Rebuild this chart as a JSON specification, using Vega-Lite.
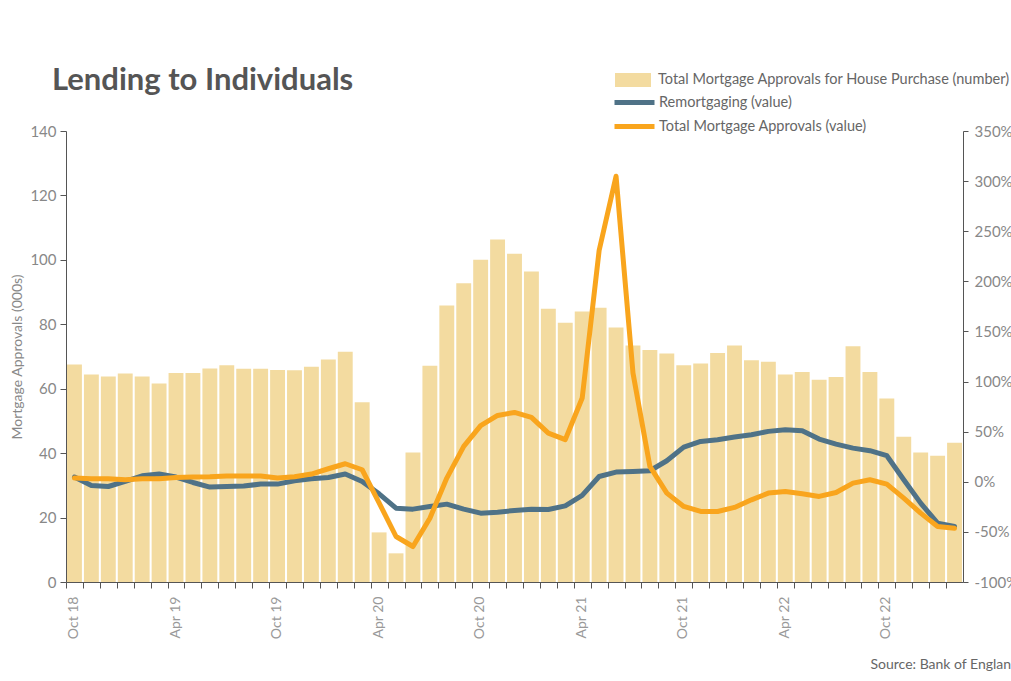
{
  "$schema": "https://vega.github.io/schema/vega-lite/v6.json",
  "autosize": {"type": "none"},
  "padding": {"left": 66, "top": 131, "right": 48, "bottom": 99},
  "width": 897,
  "height": 451,
  "background": "white",
  "config": {"view": {"stroke": null}, "font": "Lato"},
  "title": {"text": "Lending to Individuals", "anchor": "start", "frame": "group", "fontSize": 31, "fontWeight": "bold", "color": "#555555", "font": "Lato", "dx": -14, "dy": 89, "offset": 30, "baseline": "alphabetic"},
  "data": {"values": [
    {"month": "Oct 18", "p": 67.5, "r": 4.7, "t": 3.7},
    {"month": "Nov 18", "p": 64.4, "r": -3.7, "t": 3},
    {"month": "Dec 18", "p": 63.8, "r": -4.7, "t": 3},
    {"month": "Jan 19", "p": 64.7, "r": 0.3, "t": 2},
    {"month": "Feb 19", "p": 63.8, "r": 6.0, "t": 3},
    {"month": "Mar 19", "p": 61.6, "r": 7.7, "t": 3},
    {"month": "Apr 19", "p": 64.9, "r": 4.7, "t": 4.3},
    {"month": "May 19", "p": 64.9, "r": -0.7, "t": 4.7},
    {"month": "Jun 19", "p": 66.3, "r": -5.3, "t": 5},
    {"month": "Jul 19", "p": 67.3, "r": -4.7, "t": 5.7},
    {"month": "Aug 19", "p": 66.2, "r": -4.3, "t": 5.7},
    {"month": "Sep 19", "p": 66.2, "r": -2.3, "t": 5.7},
    {"month": "Oct 19", "p": 65.8, "r": -2.3, "t": 3.7},
    {"month": "Nov 19", "p": 65.7, "r": 1, "t": 5},
    {"month": "Dec 19", "p": 66.8, "r": 3, "t": 7.7},
    {"month": "Jan 20", "p": 69.1, "r": 4.3, "t": 13},
    {"month": "Feb 20", "p": 71.5, "r": 7.7, "t": 18},
    {"month": "Mar 20", "p": 55.8, "r": 0.3, "t": 12},
    {"month": "Apr 20", "p": 15.4, "r": -12, "t": -21},
    {"month": "May 20", "p": 8.9, "r": -26.3, "t": -54.6},
    {"month": "Jun 20", "p": 40.2, "r": -27.3, "t": -64.6},
    {"month": "Jul 20", "p": 67.1, "r": -24.6, "t": -36.3},
    {"month": "Aug 20", "p": 85.8, "r": -22.3, "t": 3.7},
    {"month": "Sep 20", "p": 92.7, "r": -27.3, "t": 35.3},
    {"month": "Oct 20", "p": 100.0, "r": -31.3, "t": 56},
    {"month": "Nov 20", "p": 106.3, "r": -30.3, "t": 66.2},
    {"month": "Dec 20", "p": 101.9, "r": -28.6, "t": 69.2},
    {"month": "Jan 21", "p": 96.4, "r": -27.3, "t": 64.2},
    {"month": "Feb 21", "p": 84.8, "r": -27.6, "t": 48.6},
    {"month": "Mar 21", "p": 80.5, "r": -24, "t": 42},
    {"month": "Apr 21", "p": 84.0, "r": -13.6, "t": 83.6},
    {"month": "May 21", "p": 85.1, "r": 5.3, "t": 230.7},
    {"month": "Jun 21", "p": 79.0, "r": 9.7, "t": 304.9},
    {"month": "Jul 21", "p": 73.4, "r": 10.3, "t": 108.5},
    {"month": "Aug 21", "p": 72.0, "r": 11, "t": 15.3},
    {"month": "Sep 21", "p": 70.9, "r": 21, "t": -11.3},
    {"month": "Oct 21", "p": 67.3, "r": 34.6, "t": -24.6},
    {"month": "Nov 21", "p": 67.8, "r": 40.3, "t": -29.6},
    {"month": "Dec 21", "p": 71.1, "r": 42, "t": -29.6},
    {"month": "Jan 22", "p": 73.4, "r": 44.6, "t": -25.6},
    {"month": "Feb 22", "p": 68.8, "r": 47, "t": -18},
    {"month": "Mar 22", "p": 68.4, "r": 50.3, "t": -11.3},
    {"month": "Apr 22", "p": 64.4, "r": 52, "t": -9.7},
    {"month": "May 22", "p": 65.2, "r": 51, "t": -12},
    {"month": "Jun 22", "p": 62.8, "r": 42.6, "t": -14.6},
    {"month": "Jul 22", "p": 63.6, "r": 37.6, "t": -10.7},
    {"month": "Aug 22", "p": 73.2, "r": 33.6, "t": -1.3},
    {"month": "Sep 22", "p": 65.2, "r": 31, "t": 2},
    {"month": "Oct 22", "p": 57.0, "r": 26, "t": -2.3},
    {"month": "Nov 22", "p": 45.1, "r": 2, "t": -16.3},
    {"month": "Dec 22", "p": 40.2, "r": -21.3, "t": -31.3},
    {"month": "Jan 23", "p": 39.2, "r": -41.3, "t": -44.6},
    {"month": "Feb 23", "p": 43.2, "r": -44.6, "t": -46.3}
  ]},
  "encoding": {
    "x": {
      "field": "month", "type": "nominal", "sort": null,
      "scale": {"paddingInner": 0.12, "paddingOuter": 0.06},
      "axis": {
        "title": "Source: Bank of England", "titleX": 804, "titleY": 82, "titleAlign": "left", "titleAnchor": null, "titleBaseline": "middle",
        "titleFontSize": 14, "titleFontWeight": "normal", "titleColor": "#666666",
        "labelAngle": -90, "labelAlign": "right", "labelBaseline": "middle",
        "labelExpr": "indexof(['Oct','Apr'], slice(datum.label,0,3)) >= 0 ? datum.label : ''",
        "bandPosition": 0, "tickOffset": -1, "labelOffset": 0,
        "tickSize": 6, "labelPadding": 8, "domainColor": "#555555", "tickColor": "#555555",
        "labelColor": "#999999", "labelFontSize": 14, "labelOverlap": false, "grid": false
      }
    }
  },
  "layer": [
    {
      "mark": {"type": "bar", "opacity": 1},
      "encoding": {
        "y": {
          "field": "p", "type": "quantitative",
          "scale": {"domain": [0, 140], "nice": false},
          "axis": {
            "orient": "left", "values": [0, 20, 40, 60, 80, 100, 120, 140], "grid": false,
            "title": "Mortgage Approvals (000s)", "titleFontSize": 14, "titleFontWeight": "normal", "titleColor": "#888888", "titlePadding": 5,
            "labelColor": "#888888", "labelFontSize": 15, "tickSize": 6, "labelPadding": 4,
            "domainColor": "#555555", "tickColor": "#555555"
          }
        },
        "fill": {
          "datum": "Total Mortgage Approvals for House Purchase (number)",
          "scale": {"range": ["#f3dba0"]},
          "legend": {
            "orient": "none", "legendX": 549, "legendY": -69, "title": null,
            "symbolType": "M-1,-0.39H1V0.39H-1Z", "symbolSize": 1296, "symbolStrokeWidth": 0, "symbolOpacity": 1,
            "labelFontSize": 14.5, "labelColor": "#666666", "labelLimit": 600, "labelOffset": 7
          }
        }
      }
    },
    {
      "layer": [
        {
          "mark": {"type": "line", "strokeWidth": 5, "strokeCap": "round", "strokeJoin": "round"},
          "encoding": {
            "y": {
              "field": "r", "type": "quantitative",
              "scale": {"domain": [-100, 350], "nice": false},
              "axis": {
                "orient": "right", "values": [-100, -50, 0, 50, 100, 150, 200, 250, 300, 350], "grid": false, "title": null,
                "labelExpr": "datum.value + '%'",
                "labelColor": "#888888", "labelFontSize": 15, "tickSize": 5, "labelPadding": 6,
                "domainColor": "#555555", "tickColor": "#555555"
              }
            },
            "stroke": {
              "datum": "Remortgaging (value)",
              "scale": {"range": ["#4f7287"]},
              "legend": {
                "orient": "none", "legendX": 546, "legendY": -51, "title": null,
                "symbolType": "stroke", "symbolSize": 1600, "symbolStrokeWidth": 5, "labelOffset": 2,
                "labelFontSize": 14.5, "labelColor": "#666666", "labelLimit": 600
              }
            }
          }
        },
        {
          "mark": {"type": "line", "strokeWidth": 5, "strokeCap": "round", "strokeJoin": "round"},
          "encoding": {
            "y": {
              "field": "t", "type": "quantitative",
              "scale": {"domain": [-100, 350], "nice": false},
              "axis": {
                "orient": "right", "values": [-100, -50, 0, 50, 100, 150, 200, 250, 300, 350], "grid": false, "title": null,
                "labelExpr": "datum.value + '%'",
                "labelColor": "#888888", "labelFontSize": 15, "tickSize": 5, "labelPadding": 6,
                "domainColor": "#555555", "tickColor": "#555555"
              }
            },
            "stroke": {
              "datum": "Total Mortgage Approvals (value)",
              "scale": {"range": ["#f9a51d"]},
              "legend": {
                "orient": "none", "legendX": 546, "legendY": -27, "title": null,
                "symbolType": "stroke", "symbolSize": 1600, "symbolStrokeWidth": 5, "labelOffset": 2,
                "labelFontSize": 14.5, "labelColor": "#666666", "labelLimit": 600
              }
            }
          }
        }
      ],
      "resolve": {"scale": {"stroke": "independent"}}
    }
  ],
  "resolve": {"scale": {"y": "independent"}}
}
